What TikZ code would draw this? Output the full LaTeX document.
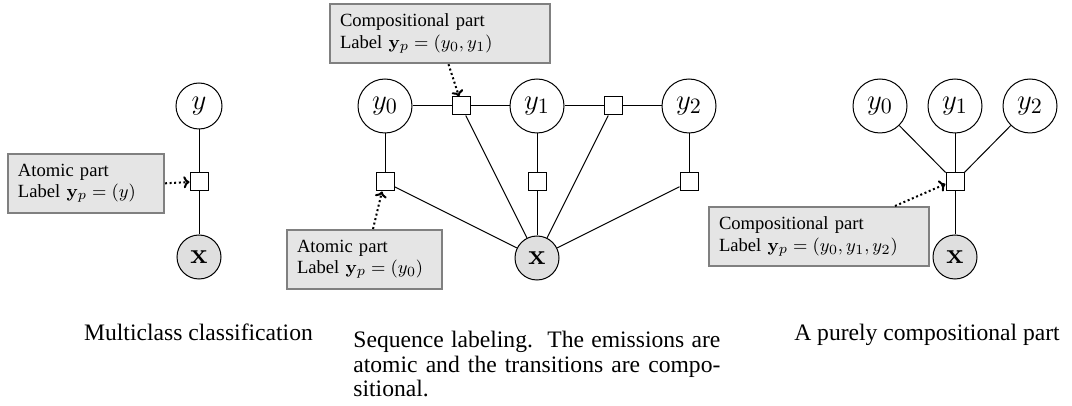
\documentclass[tikz,border=0pt]{standalone}
\usepackage[no-math]{fontspec}
\setmainfont{Liberation Serif}
\usetikzlibrary{arrows.meta}
\begin{document}
\begin{tikzpicture}[x=0.5pt,y=-0.5pt,
  var/.style={circle, draw, line width=0.5pt, inner sep=0pt, fill=white, font=\fontsize{15}{17}\selectfont},
  varA/.style={var, minimum size=23pt},
  varB/.style={var, minimum size=27pt},
  obs/.style={var, fill=gray!25, minimum size=22pt},
  fac/.style={rectangle, draw, line width=0.5pt, fill=white, minimum size=9pt, inner sep=0pt},
  infobox/.style={draw=gray, line width=1pt, fill=gray!20, align=left, inner sep=5pt,
    font=\fontsize{9.3}{10.8}\selectfont, anchor=north west},
  edge/.style={line width=0.5pt},
  pointer/.style={-{To[length=3pt,width=6pt]}, line width=1pt, dash pattern=on 1pt off 1.3pt},
  captext/.style={inner sep=0pt, font=\fontsize{11.8}{12.2}\selectfont}
]
\useasboundingbox (0,0) rectangle (1072,406);

% ---------- Panel 1 ----------
\node[varA] (yA) at (199,106) {$y$};
\node[fac] (fA) at (199,182) {};
\node[obs] (xA) at (199,257) {$\mathbf{x}$};
\draw[edge] (yA) -- (fA);
\draw[edge] (fA) -- (xA);
\node[infobox, text width=68pt] (bA) at (7,153) {Atomic part\\Label $\mathbf{y}_p=(y)$};
\draw[pointer] (bA.east) -- (fA.west);
\node[captext, anchor=base] (cA) at (198.5,341) {Multiclass classification};

% ---------- Panel 2 ----------
\node[varB] (y0) at (385,106) {$y_0$};
\node[varB] (y1) at (537,106) {$y_1$};
\node[varB] (y2) at (689,106) {$y_2$};
\node[fac] (t1) at (461,106) {};
\node[fac] (t2) at (613,106) {};
\node[fac] (e0) at (385,182) {};
\node[fac] (e1) at (537,182) {};
\node[fac] (e2) at (689,182) {};
\node[obs] (xB) at (537,258) {$\mathbf{x}$};
\draw[edge] (y0) -- (t1);
\draw[edge] (t1) -- (y1);
\draw[edge] (y1) -- (t2);
\draw[edge] (t2) -- (y2);
\draw[edge] (y0) -- (e0);
\draw[edge] (y1) -- (e1);
\draw[edge] (y2) -- (e2);
\draw[edge] (e0) -- (xB);
\draw[edge] (e1) -- (xB);
\draw[edge] (e2) -- (xB);
\draw[edge] (t1) -- (xB);
\draw[edge] (t2) -- (xB);
\node[infobox, text width=100pt] (bC) at (329,3) {Compositional part\\Label $\mathbf{y}_p=(y_0,y_1)$};
\node[infobox, text width=67.5pt] (bB) at (286,229) {Atomic part\\Label $\mathbf{y}_p=(y_0)$};
\draw[pointer] ([xshift=4.25pt]bC.south) -- ([xshift=-1pt]t1.north);
\draw[pointer] ([xshift=4.25pt]bB.north) -- ([xshift=-1.5pt]e0.south);
\node[captext, anchor=base west] (cB) at (353,348) {\parbox[t]{183.5pt}{\fontsize{11.8}{12.2}\selectfont
  \makebox[183.5pt][s]{Sequence labeling.\ \ The emissions are}\\
  \makebox[183.5pt][s]{atomic and the transitions are compo-}\\
  sitional.}};

% ---------- Panel 3 ----------
\node[varB] (z0) at (880,106) {$y_0$};
\node[varB] (z1) at (955,106) {$y_1$};
\node[varB] (z2) at (1030,106) {$y_2$};
\node[fac] (f3) at (955,182) {};
\node[obs] (xC) at (955,257) {$\mathbf{x}$};
\draw[edge] (z0) -- (f3);
\draw[edge] (z1) -- (f3);
\draw[edge] (z2) -- (f3);
\draw[edge] (f3) -- (xC);
\node[infobox, text width=100pt] (bD) at (708,206) {Compositional part\\Label $\mathbf{y}_p=(y_0,y_1,y_2)$};
\draw[pointer] ([xshift=-17.5pt]bD.north east) -- ([yshift=-1pt]f3.west);
\node[captext, anchor=base] (cC) at (927,341) {A purely compositional part};
\end{tikzpicture}
\end{document}
